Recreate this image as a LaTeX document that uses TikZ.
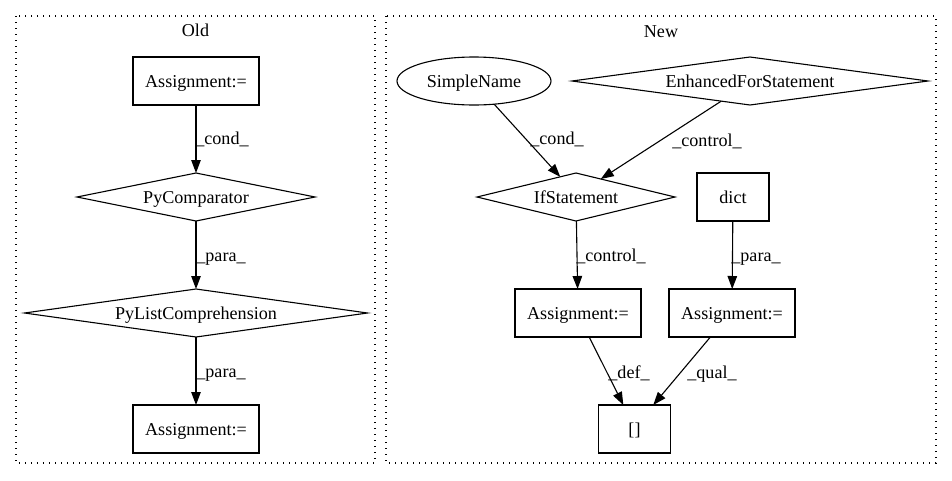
\documentclass[tikz,border=0pt]{standalone}
\usepackage{fontspec}
\setmainfont{Liberation Serif}
\usetikzlibrary{shapes.geometric,arrows.meta}
\begin{document}
\begin{tikzpicture}[x=1pt,y=-1pt,
  font=\fontsize{18.1}{22}\selectfont,
  every node/.style={inner sep=0pt, outer sep=0pt, text height=14pt, text depth=2pt},
  box/.style={draw, line width=1.1pt, rectangle, minimum height=48pt},
  dia/.style={draw, line width=1.1pt, diamond, minimum height=48pt},
  oval/.style={draw, line width=1.1pt, ellipse, minimum height=48pt},
  edge/.style={draw, line width=1.1pt, -{Triangle[length=13pt,width=9.5pt]}},
  cluster/.style={draw, line width=1.2pt, dash pattern=on 1.2pt off 4.8pt}]
\useasboundingbox (0,0) rectangle (952,480);
% clusters
\draw[cluster] (16,16) rectangle (375,463);
\draw[cluster] (386,16) rectangle (936,463);
\node (oldt) at (195.5,30) {Old};
\node (newt) at (661,31) {New};
% old nodes
\node[box, minimum width=126pt] (oa1) at (196,81) {Assignment:=};
\node[dia, minimum width=238pt, aspect=4.96] (opc) at (196,197) {PyComparator};
\node[dia, minimum width=343pt, aspect=7.15] (olc) at (196,313) {PyListComprehension};
\node[box, minimum width=126pt] (oa2) at (196,429) {Assignment:=};
% new nodes
\node[oval, minimum width=154pt] (sn) at (474,81) {SimpleName};
\node[dia, minimum width=356pt, aspect=7.4] (efs) at (750,81) {EnhancedForStatement};
\node[dia, minimum width=198pt, aspect=4.1] (ifs) at (576,197) {IfStatement};
\node[box, minimum width=72pt] (dict) at (733,197) {dict};
\node[box, minimum width=126pt] (na1) at (578,313) {Assignment:=};
\node[box, minimum width=126pt] (na2) at (732,313) {Assignment:=};
\node[box, minimum width=72pt] (br) at (634.5,429) {[]};
% old edges
\draw[edge] (oa1) -- (opc);
\draw[edge] (opc) -- (olc);
\draw[edge] (olc) -- (oa2);
\node (l1) at (222,138) {\_cond\_};
\node (l2) at (221,255) {\_para\_};
\node (l3) at (221,371) {\_para\_};
% new edges
\draw[edge] (sn.-49) -- (ifs.128.7);
\draw[edge] (efs.215.5) -- (ifs.36.2);
\draw[edge] (ifs) -- (na1);
\draw[edge] (dict) -- (na2);
\draw[edge] (na1.-65.4) -- (br.115.6);
\draw[edge] (na2.-132.5) -- (br.52.4);
\node (l4) at (557,138) {\_cond\_};
\node (l5) at (707,140) {\_control\_};
\node (l6) at (611,255) {\_control\_};
\node (l7) at (756,255) {\_para\_};
\node (l8) at (629,372) {\_def\_};
\node (l9) at (712,372) {\_qual\_};
\end{tikzpicture}
\end{document}
